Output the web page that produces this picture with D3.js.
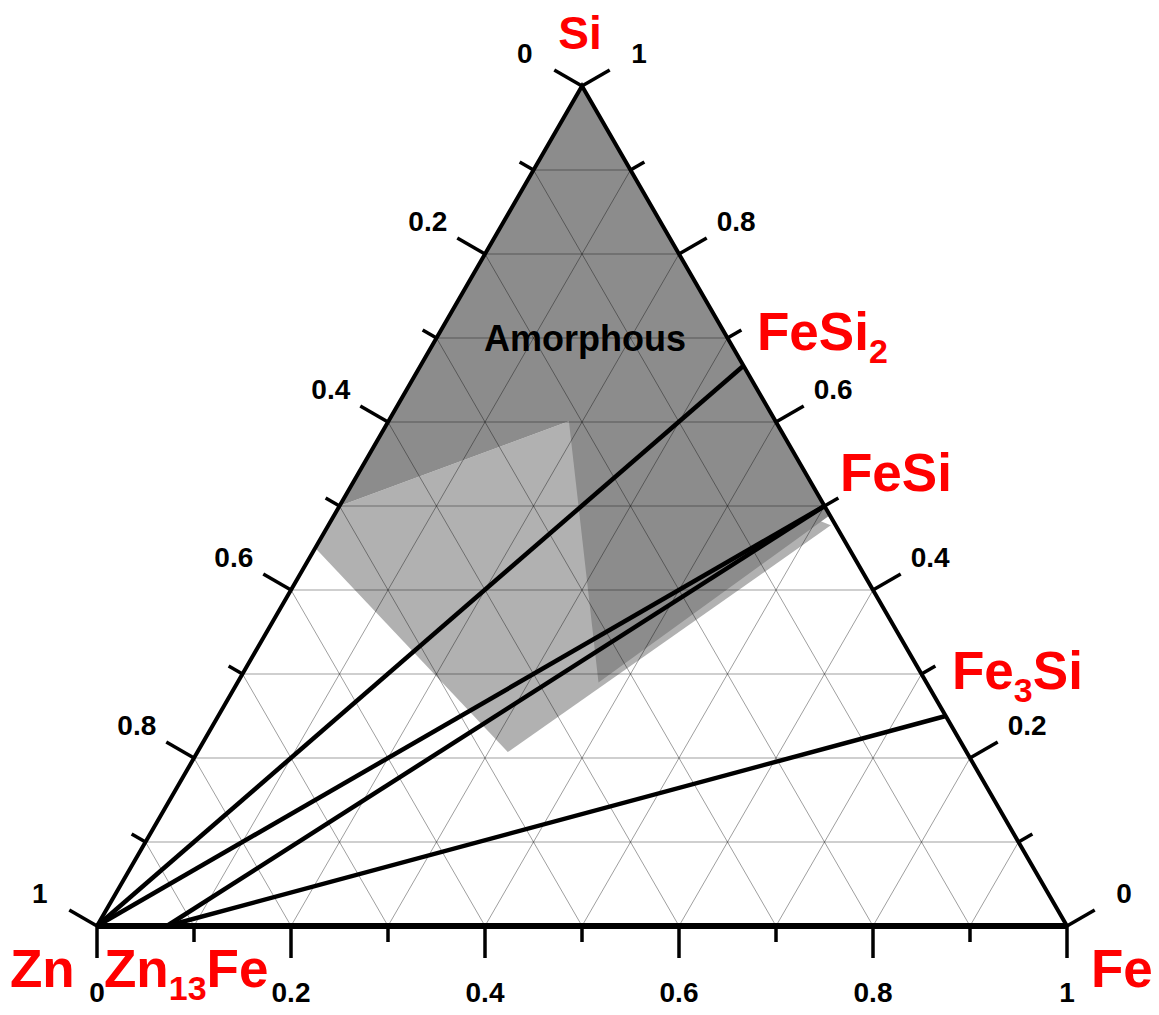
<!DOCTYPE html>
<html>
<head>
<meta charset="utf-8">
<script src="https://cdn.jsdelivr.net/npm/d3@7"></script>
<style>
  body { margin: 0; background: #fff; }
  svg text { font-family: "Liberation Sans", Arial, sans-serif; font-weight: bold; }
</style>
</head>
<body>
<div class="chart"></div>
<script>
// ternary Zn - Fe - Si, fractions given as (fe, si), zn = 1 - fe - si
const tickValues = d3.range(0, 11).map(i => i / 10);

// compounds on the edges
const phaseNames = ["Zn", "Zn13Fe", "FeSi2", "FeSi", "Fe3Si", "Fe", "Si"];
const phaseFe = [0, 0.072, 0.333, 0.5, 0.75, 1, 0];
const phaseSi = [0, 0, 0.667, 0.5, 0.25, 0, 1];

// tie lines
const tieFrom = ["Zn", "Zn", "Zn13Fe", "Zn13Fe"];
const tieTo = ["FeSi2", "FeSi", "FeSi", "Fe3Si"];

// amorphous region (dark)
const amorphousFe = [0, 0.511, 0.372, 0.186, 0];
const amorphousSi = [1, 0.489, 0.29, 0.601, 0.5];

// lighter region
const mixedFe = [0, 0, 0.186, 0.518, 0.32];
const mixedSi = [0.45, 0.5, 0.601, 0.477, 0.207];

let width = 1159, height = 1015;

let svg = d3.select(".chart")
    .append("svg")
    .attr("width", width)
    .attr("height", height);

let xScale = d3.scaleLinear().domain([0, 1]).range([97, 1067]);
let yScale = d3.scaleLinear().domain([0, 1]).range([926, 86]);

// (fe, si) -> [x, y]
function pt(fe, si) {
    return [xScale(fe + si / 2), yScale(si)];
}
function phase(name) {
    let i = phaseNames.indexOf(name);
    return pt(phaseFe[i], phaseSi[i]);
}

let line = d3.line();

svg.append("path")
    .attr("d", line(mixedFe.map((f, i) => pt(f, mixedSi[i]))) + "Z")
    .attr("fill", "#b1b1b1");

svg.append("path")
    .attr("d", line(amorphousFe.map((f, i) => pt(f, amorphousSi[i]))) + "Z")
    .attr("fill", "#8c8c8c");

// grid
let grid = svg.append("g")
    .attr("stroke", "rgba(0,0,0,0.38)")
    .attr("stroke-width", 1)
    .attr("fill", "none");
tickValues.slice(1, 10).forEach(t => {
    grid.append("path").attr("d", line([pt(0, t), pt(1 - t, t)]));
    grid.append("path").attr("d", line([pt(t, 0), pt(t, 1 - t)]));
    grid.append("path").attr("d", line([pt(1 - t, 0), pt(0, 1 - t)]));
});

// frame
svg.append("path")
    .attr("d", line([pt(0, 0), pt(0, 1), pt(1, 0)]))
    .attr("stroke", "#000").attr("stroke-width", 4)
    .attr("fill", "none").attr("stroke-linejoin", "miter");
svg.append("path")
    .attr("d", line([pt(0, 0), pt(1, 0)]))
    .attr("stroke", "#000").attr("stroke-width", 6);

// tie lines
tieFrom.forEach((a, i) => {
    svg.append("path")
        .attr("d", line([phase(a), phase(tieTo[i])]))
        .attr("stroke", "#000")
        .attr("stroke-width", 4.5);
});

// axes: ticks perpendicular to each edge
let s3 = Math.sqrt(3) / 2;
let axes = [
    {pos: t => pt(t, 0), dir: [0, 1]},          // Fe, bottom
    {pos: t => pt(0, 1 - t), dir: [-s3, -0.5]}, // Zn, left
    {pos: t => pt(1 - t, t), dir: [s3, -0.5]}   // Si, right
];
let tickG = svg.append("g").attr("stroke", "#000").attr("stroke-width", 3.5);
let labelG = svg.append("g");
axes.forEach(ax => {
    tickValues.forEach((t, i) => {
        let p = ax.pos(t);
        let len = i % 2 === 0 ? 32 : 16;
        tickG.append("line")
            .attr("x1", p[0]).attr("y1", p[1])
            .attr("x2", p[0] + ax.dir[0] * len)
            .attr("y2", p[1] + ax.dir[1] * len);
        if (i % 2 === 0) {
            labelG.append("text")
                .attr("x", p[0] + ax.dir[0] * 66)
                .attr("y", p[1] + ax.dir[1] * 66)
                .attr("text-anchor", "middle")
                .attr("dominant-baseline", "central")
                .attr("font-size", 28)
                .text(t === 0 ? "0" : t === 1 ? "1" : t.toFixed(1));
        }
    });
});

svg.append("text")
    .attr("x", 585).attr("y", 351)
    .attr("text-anchor", "middle")
    .attr("font-size", 36)
    .text("Amorphous");

// compound labels, [text, subscript, text]
function chem(x, y, parts, size, anchor) {
    let t = svg.append("text")
        .attr("x", x).attr("y", y)
        .attr("fill", "#ff0000")
        .attr("font-size", size)
        .attr("text-anchor", anchor || "start");
    parts.forEach((p, i) => {
        if (!p) return;
        let ts = t.append("tspan").text(p);
        if (i === 1) ts.attr("font-size", 34).attr("dy", 13);
        if (i === 2 && parts[1]) ts.attr("dy", -13);
    });
}
chem(580, 49, ["Si"], 46, "middle");
chem(10, 987, ["Zn"], 53);
chem(104, 987, ["Zn", "13", "Fe"], 53);
chem(1091, 987, ["Fe"], 53);
chem(757, 350, ["FeSi", "2"], 53);
chem(840, 491, ["FeSi"], 53);
chem(952, 689, ["Fe", "3", "Si"], 53);
</script>
</body>
</html>
